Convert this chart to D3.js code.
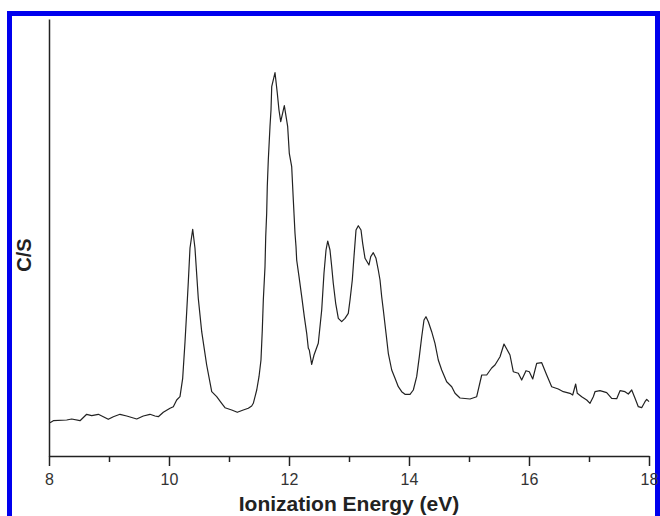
<!DOCTYPE html>
<html>
<head>
<meta charset="utf-8">
<script src="https://cdn.jsdelivr.net/npm/d3@7"></script>
<style>
html,body{margin:0;padding:0;background:#fff;}
svg{display:block;}
</style>
</head>
<body>
<svg id="chart" width="660" height="516"></svg>
<script>
// Ionization energy (eV)
const energy = [8.017,8.072,8.295,8.378,8.517,8.628,8.712,8.822,8.905,8.988,9.072,9.183,9.295,9.462,9.572,9.683,9.767,9.822,9.905,10.017,10.072,10.128,10.183,10.228,10.267,10.295,10.322,10.35,10.395,10.433,10.488,10.545,10.628,10.712,10.795,10.878,10.933,11.045,11.138,11.238,11.322,11.378,11.405,11.462,11.5,11.533,11.555,11.572,11.6,11.612,11.628,11.638,11.655,11.683,11.7,11.712,11.767,11.805,11.833,11.862,11.922,11.978,12.005,12.045,12.072,12.1,12.117,12.128,12.167,12.212,12.255,12.295,12.322,12.338,12.378,12.417,12.488,12.545,12.583,12.617,12.645,12.683,12.712,12.738,12.778,12.822,12.878,12.933,12.988,13.017,13.055,13.083,13.117,13.155,13.2,13.228,13.267,13.333,13.362,13.405,13.45,13.488,13.517,13.545,13.572,13.617,13.655,13.712,13.767,13.822,13.878,13.933,14.017,14.072,14.128,14.172,14.212,14.25,14.283,14.322,14.378,14.433,14.488,14.545,14.628,14.712,14.767,14.85,15.017,15.128,15.212,15.295,15.378,15.433,15.517,15.583,15.683,15.738,15.822,15.878,15.95,16.005,16.062,16.128,16.212,16.295,16.378,16.488,16.572,16.683,16.728,16.778,16.805,16.878,16.962,17.017,17.072,17.1,17.183,17.295,17.378,17.462,17.517,17.6,17.655,17.712,17.767,17.822,17.878,17.933,17.962,18.0];
// Counts per second (arbitrary units)
const counts = [33.3,35.3,36,37,35.3,41.7,40.3,41.7,39.3,36.7,39.3,41.7,40,37,40,41.7,40,39.3,43.7,47.7,49.3,56,59.3,77.7,114.3,144.3,174.3,208,226.7,207.7,157.7,124.3,91,64.3,59.3,52.7,48.3,46,43.7,46,47.7,50,52.7,66,79.3,96,126,156,189.3,219.3,242.7,269.3,296,329.3,346,369.3,383.3,362.7,346,334.3,350.3,329.3,302.7,289.3,256,222.7,209.3,196,179.3,159.3,139.3,122.7,107.7,106,91.7,101,112.7,146,182.7,206,215,206,189.3,172.7,152.7,137.7,134.3,137.7,142.7,156,176,199.3,226,230.3,226,212.7,197.7,191,199.3,203.3,197.7,186,176,159.3,146,122.7,102.7,86,77.7,69.3,64.3,61.7,61.7,66,79.3,99.3,119.3,136,139.3,134.3,124.3,112.7,96,86,74.3,69.3,62.7,58,57,59.3,81,81,88,91,99.3,112,101,84.3,82.7,76,85.3,84.3,77,92.7,93.3,81,69.3,67,64.3,62.7,61,72,62.7,59.3,56,52.7,59.3,64.3,65.3,63.3,57.7,57.3,65.3,64.3,62,66,57.7,49.3,48.3,54.3,56.7,54.3];
const majorTicks = [8,10,12,14,16,18];
const minorTicks = [9,11,13,15,17];
const xTitle = "Ionization Energy (eV)";
const yTitle = "C/S";

const svg = d3.select("#chart");
const mLeft = 49, mRight = 649, mTop = 19, mBottom = 456;

const x = d3.scaleLinear().domain([8,18]).range([mLeft,mRight]);
const y = d3.scaleLinear().domain([0,437]).range([mBottom,mTop]);

// blue frame
svg.append("rect").attr("x",9.5).attr("y",13.5).attr("width",648).attr("height",520)
  .attr("fill","#fff").attr("stroke","#0000ee").attr("stroke-width",5);

// minor ticks
const minorAxis = d3.axisBottom(x).tickValues(minorTicks).tickSize(6).tickFormat("").tickSizeOuter(0);
const gMinor = svg.append("g").attr("transform",`translate(0,${mBottom})`).call(minorAxis);
gMinor.select(".domain").remove();
gMinor.selectAll("line").attr("stroke","#222").attr("stroke-width",1.5);

// major axis
const xAxis = d3.axisBottom(x).tickValues(majorTicks).tickSize(10).tickPadding(8).tickSizeOuter(0).tickFormat(d3.format("d"));
const gx = svg.append("g").attr("transform",`translate(0,${mBottom})`).call(xAxis);
gx.select(".domain").attr("stroke","#222").attr("stroke-width",1.5);
gx.selectAll("line").attr("stroke","#222").attr("stroke-width",1.5);
gx.selectAll("text").attr("font-family","Liberation Sans, Arial, sans-serif").attr("font-size",16).attr("fill","#333");

// y axis (line only)
const yAxis = d3.axisLeft(y).tickValues([]).tickSizeOuter(0);
const gy = svg.append("g").attr("transform",`translate(${mLeft},0)`).call(yAxis);
gy.select(".domain").attr("stroke","#222").attr("stroke-width",1.5);

// titles
svg.append("text").attr("x",(mLeft+mRight)/2).attr("y",511).attr("text-anchor","middle")
  .attr("font-family","Liberation Sans, Arial, sans-serif").attr("font-weight","bold").attr("font-size",21)
  .attr("fill","#222").text(xTitle);
svg.append("text").attr("transform","translate(31,255) rotate(-90)").attr("text-anchor","middle")
  .attr("font-family","Liberation Sans, Arial, sans-serif").attr("font-weight","bold").attr("font-size",20)
  .attr("fill","#222").text(yTitle);

// spectrum line
const data = energy.map((e,i)=>({e, c: counts[i]}));
const line = d3.line().x(d=>x(d.e)).y(d=>y(d.c)).curve(d3.curveLinear);
svg.append("path").datum(data).attr("d",line).attr("fill","none")
  .attr("stroke","#222").attr("stroke-width",1.2).attr("stroke-linejoin","round");
</script>
</body>
</html>
